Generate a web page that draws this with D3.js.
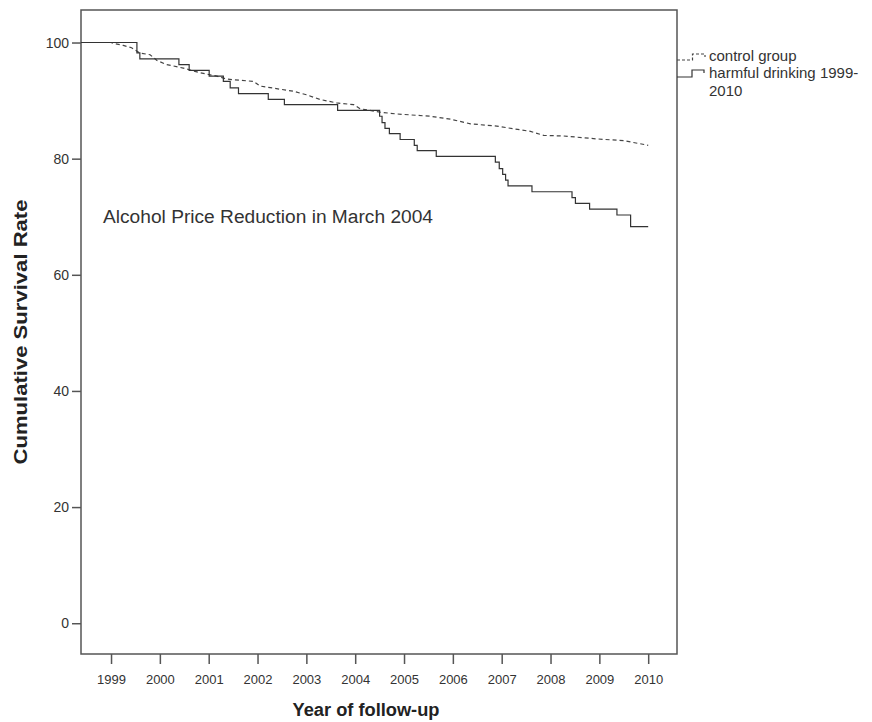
<!DOCTYPE html>
<html>
<head>
<meta charset="utf-8">
<script src="https://cdn.jsdelivr.net/npm/d3@7"></script>
<style>
  html, body { margin: 0; padding: 0; background: #fff; }
  svg { display: block; font-family: "Liberation Sans", Arial, sans-serif; }
</style>
</head>
<body>
<svg id="chart" width="872" height="722"></svg>
<script>
// ---- data ----
const xTicks = [1999, 2000, 2001, 2002, 2003, 2004, 2005, 2006, 2007, 2008, 2009, 2010];
const yTicks = [0, 20, 40, 60, 80, 100];

const harmfulYears = [1998.385, 1999.53, 1999.59, 2000.39, 2000.60, 2001.01, 2001.30, 2001.44, 2001.61,
  2002.22, 2002.55, 2003.64, 2004.50, 2004.55, 2004.61, 2004.70, 2004.92, 2005.21, 2005.27, 2005.66,
  2006.87, 2006.95, 2007.02, 2007.08, 2007.13, 2007.62, 2008.44, 2008.51, 2008.80, 2009.36, 2009.64, 2010.0];
const harmfulRate = [100, 98.2, 97.2, 96.2, 95.2, 94.2, 93.3, 92.2, 91.2,
  90.2, 89.3, 88.3, 87.3, 86.2, 85.2, 84.3, 83.3, 82.3, 81.4, 80.4,
  79.4, 78.3, 77.3, 76.3, 75.3, 74.3, 73.3, 72.3, 71.3, 70.3, 68.3, 68.3];

const controlYears = [1998.385, 1999.0, 1999.08, 1999.25, 1999.42, 1999.59, 1999.80, 1999.94, 2000.14,
  2000.48, 2000.82, 2001.17, 2001.37, 2001.92, 2002.05, 2002.74, 2003.0, 2003.28, 2003.62, 2003.97,
  2004.10, 2004.51, 2004.85, 2005.54, 2005.95, 2006.36, 2006.90, 2007.59, 2007.86, 2008.27, 2008.95,
  2009.50, 2009.94, 2010.0];
const controlRate = [100, 100, 99.8, 99.5, 99.1, 98.2, 97.9, 96.9, 96.2,
  95.6, 94.8, 94.2, 93.7, 93.3, 92.5, 91.6, 91.0, 90.2, 89.6, 89.3,
  88.6, 88.0, 87.7, 87.3, 86.8, 86.0, 85.6, 84.7, 84.0, 83.9, 83.4,
  83.1, 82.4, 82.3];

const seriesNames = ["control group", "harmful drinking 1999-2010"];
const annotation = "Alcohol Price Reduction in March 2004";

// ---- layout ----
const svg = d3.select("#chart");
const frame = { left: 81, right: 677, top: 10, bottom: 654 };

const x = d3.scaleLinear().domain([1998.385, 2010.59]).range([frame.left, frame.right]);
const y = d3.scaleLinear().domain([-5.3, 105.6]).range([frame.bottom, frame.top]);

const axisColor = "#555";
const textColor = "#333";

// frame
svg.append("rect")
  .attr("x", frame.left).attr("y", frame.top)
  .attr("width", frame.right - frame.left).attr("height", frame.bottom - frame.top)
  .attr("fill", "none").attr("stroke", axisColor).attr("stroke-width", 1.5);

// y axis
const yAxis = svg.append("g")
  .attr("transform", `translate(${frame.left},0)`)
  .call(d3.axisLeft(y).tickValues(yTicks).tickSize(9).tickPadding(3).tickFormat(d3.format("d")));
yAxis.select(".domain").remove();
yAxis.selectAll(".tick line").attr("stroke", axisColor).attr("stroke-width", 1.5);
yAxis.selectAll(".tick text").attr("fill", textColor).attr("font-size", 14)
  .attr("font-family", "'Liberation Sans', Arial, sans-serif");

// x axis
const xAxis = svg.append("g")
  .attr("transform", `translate(0,${frame.bottom})`)
  .call(d3.axisBottom(x).tickValues(xTicks).tickSize(10).tickPadding(11).tickFormat(d3.format("d")));
xAxis.select(".domain").remove();
xAxis.selectAll(".tick line").attr("stroke", axisColor).attr("stroke-width", 1.5);
xAxis.selectAll(".tick text").attr("fill", textColor).attr("font-size", 13)
  .attr("font-family", "'Liberation Sans', Arial, sans-serif");

// titles
svg.append("text")
  .attr("x", 366).attr("y", 716)
  .attr("text-anchor", "middle")
  .attr("font-size", 18).attr("font-weight", "bold").attr("fill", "#222")
  .attr("textLength", 147).attr("lengthAdjust", "spacingAndGlyphs")
  .text("Year of follow-up");

svg.append("text")
  .attr("transform", "translate(27,332) rotate(-90)")
  .attr("text-anchor", "middle")
  .attr("font-size", 19).attr("font-weight", "bold").attr("fill", "#222")
  .attr("textLength", 265).attr("lengthAdjust", "spacingAndGlyphs")
  .text("Cumulative Survival Rate");

// annotation
svg.append("text")
  .attr("x", 103).attr("y", 223)
  .attr("font-size", 18).attr("fill", textColor)
  .attr("textLength", 330).attr("lengthAdjust", "spacingAndGlyphs")
  .text(annotation);

// curves
const controlData = controlYears.map((t, i) => [t, controlRate[i]]);
const harmfulData = harmfulYears.map((t, i) => [t, harmfulRate[i]]);

const stepLine = d3.line().x(d => x(d[0])).y(d => y(d[1])).curve(d3.curveStepAfter);
const smoothLine = d3.line().x(d => x(d[0])).y(d => y(d[1])).curve(d3.curveLinear);

svg.append("path").datum(controlData)
  .attr("d", smoothLine)
  .attr("fill", "none").attr("stroke", "#444").attr("stroke-width", 1.2)
  .attr("stroke-dasharray", "4,3");

svg.append("path").datum(harmfulData)
  .attr("d", stepLine)
  .attr("fill", "none").attr("stroke", "#333").attr("stroke-width", 1.2);

// legend
const lg = svg.append("g");
lg.append("path")
  .attr("d", "M677,60 H692.5 V54 H705 V57")
  .attr("fill", "none").attr("stroke", "#444").attr("stroke-width", 1.2).attr("stroke-dasharray", "3,2");
lg.append("text").attr("x", 709).attr("y", 61).attr("font-size", 15).attr("fill", textColor)
  .text(seriesNames[0]);

lg.append("path")
  .attr("d", "M677,77 H692 V70 H704 V73")
  .attr("fill", "none").attr("stroke", "#333").attr("stroke-width", 1.2);
const t2 = lg.append("text").attr("x", 709).attr("y", 78).attr("font-size", 15).attr("fill", textColor);
t2.append("tspan").attr("x", 709).attr("dy", 0).text("harmful drinking 1999-");
t2.append("tspan").attr("x", 709).attr("dy", 18).text("2010");
</script>
</body>
</html>
